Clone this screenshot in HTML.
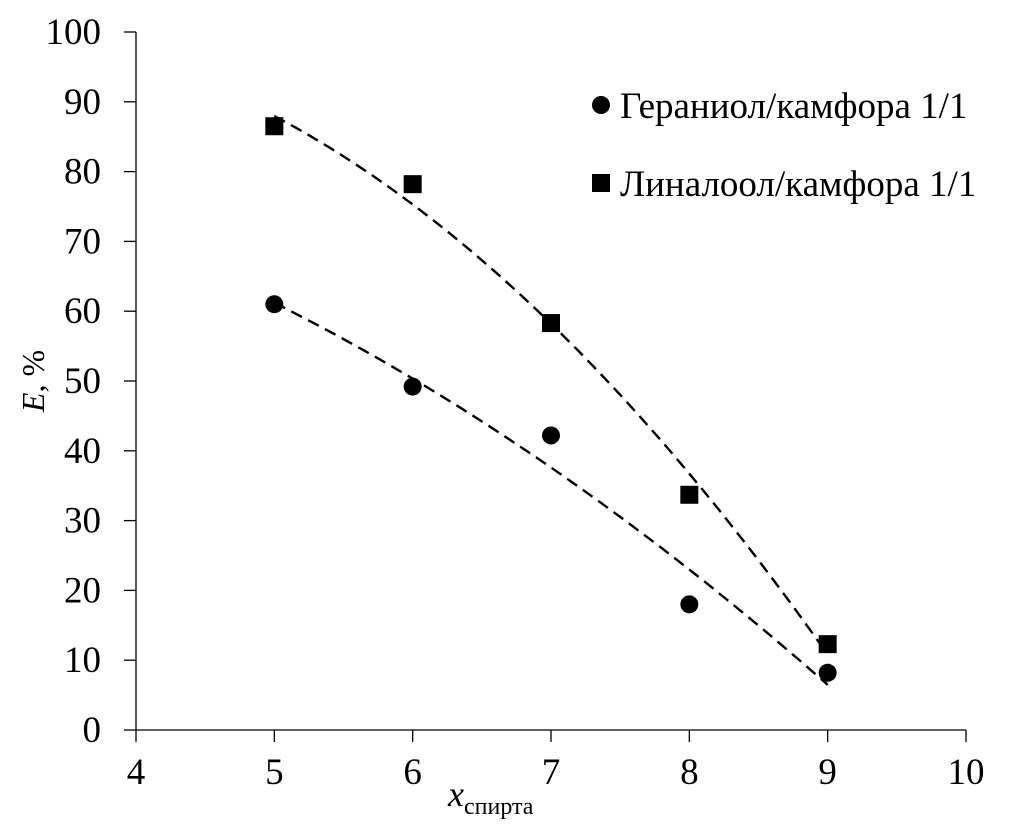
<!DOCTYPE html>
<html><head><meta charset="utf-8"><style>
html,body{margin:0;padding:0;background:#fff;}
svg{display:block;font-family:"Liberation Serif","DejaVu Serif",serif;}
</style></head><body>
<svg id="chart" width="1014" height="830"></svg>
<script>
const categories=[5,6,7,8,9];
const geraniol=[61,49.2,42.2,18,8.2];
const linalool=[86.5,78.2,58.3,33.7,12.3];
const xTicks=[4,5,6,7,8,9,10];
const yTicks=[0,10,20,30,40,50,60,70,80,90,100];
const seriesNames=["Гераниол/камфора 1/1","Линалоол/камфора 1/1"];

const svg=document.getElementById('chart');
const NS='http://www.w3.org/2000/svg';
const X0=136,X1=966,Y0=730,Y1=32;
const xs=v=>X0+(v-4)/6*(X1-X0);
const ys=v=>Y0-v/100*(Y0-Y1);
function mk(t,a){const e=document.createElementNS(NS,t);for(const k in a)e.setAttribute(k,a[k]);svg.appendChild(e);return e;}

let ax=mk('line',{x1:X0,y1:Y0,x2:X1,y2:Y0,stroke:'#000','stroke-width':1.3});


ax=mk('line',{x1:X0,y1:Y0,x2:X0,y2:Y1,stroke:'#000','stroke-width':1.3});



xTicks.forEach(v=>{
  const x=xs(v);
  mk('line',{x1:x,y1:Y0,x2:x,y2:Y0+12,stroke:'#000','stroke-width':1.3});
  const t=mk('text',{x:x,y:Y0+54,'font-size':37,'text-anchor':'middle'});t.textContent=v;
  
  
});
yTicks.forEach(v=>{
  const y=ys(v);
  mk('line',{x1:X0-12,y1:y,x2:X0,y2:y,stroke:'#000','stroke-width':1.3});
  const t=mk('text',{x:X0-35,y:y+12,'font-size':37,'text-anchor':'end'});t.textContent=v;
  
  
});

let yt=mk('text',{transform:'translate(44,381) rotate(-90)','font-size':32,'text-anchor':'middle'});
yt.innerHTML='<tspan font-style="italic">E</tspan>, %';


let xt=mk('text',{x:448,y:806,'font-size':36});
xt.innerHTML='<tspan font-style="italic">x</tspan><tspan font-size="24" dy="8">спирта</tspan>';



function fit(xv,yv){
  let S=[0,0,0,0,0],T=[0,0,0];
  xv.forEach((x,i)=>{for(let k=0;k<5;k++)S[k]+=Math.pow(x,k);for(let k=0;k<3;k++)T[k]+=yv[i]*Math.pow(x,k);});
  const A=[[S[0],S[1],S[2],T[0]],[S[1],S[2],S[3],T[1]],[S[2],S[3],S[4],T[2]]];
  for(let i=0;i<3;i++){for(let j=i+1;j<3;j++){const f=A[j][i]/A[i][i];for(let k=i;k<4;k++)A[j][k]-=f*A[i][k];}}
  const c=[0,0,0];
  for(let i=2;i>=0;i--){let s=A[i][3];for(let k=i+1;k<3;k++)s-=A[i][k]*c[k];c[i]=s/A[i][i];}
  return x=>c[0]+c[1]*x+c[2]*x*x;
}
[[geraniol,'trendline-geraniol'],[linalool,'trendline-linalool']].forEach(([d,n])=>{
  const f=fit(categories,d);let p='';
  for(let x=categories[0];x<=categories[categories.length-1]+1e-9;x+=0.05)p+=(p?'L':'M')+xs(x).toFixed(1)+','+ys(f(x)).toFixed(1);
  const e=mk('path',{d:p,fill:'none',stroke:'#000','stroke-width':2.4,'stroke-dasharray':'12,7'});
  
  
});

geraniol.forEach((v,i)=>{
  const e=mk('circle',{cx:xs(categories[i]),cy:ys(v),r:9,fill:'#000'});
  
  
});
linalool.forEach((v,i)=>{
  const e=mk('rect',{x:xs(categories[i])-9,y:ys(v)-9,width:18,height:18,fill:'#000'});
  
  
});

let lg=mk('circle',{cx:601,cy:105,r:9,fill:'#000'});


lg=mk('text',{x:620,y:118,'font-size':37});lg.textContent=seriesNames[0];


lg=mk('rect',{x:592,y:174,width:18,height:18,fill:'#000'});


lg=mk('text',{x:620,y:196,'font-size':37});lg.textContent=seriesNames[1];


</script>
</body></html>
